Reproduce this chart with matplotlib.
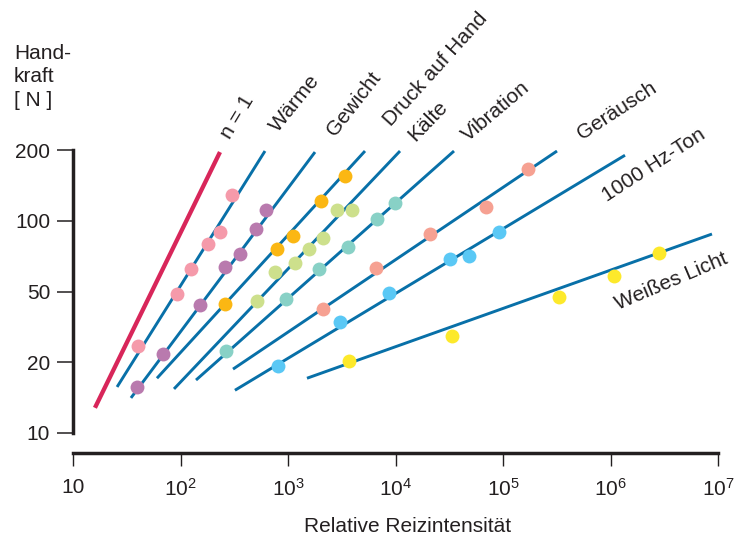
import numpy as np
import matplotlib
matplotlib.use("Agg")
import matplotlib.pyplot as plt
from matplotlib.ticker import NullLocator

plt.rcParams['font.family'] = ['Liberation Sans', 'DejaVu Sans']
plt.rcParams['mathtext.fontset'] = 'custom'
plt.rcParams['mathtext.rm'] = 'Liberation Sans'

# y-Achse: Teilstriche 10, 20, 50, 100, 200 in gleichen Abständen
y_ticks = [10, 20, 50, 100, 200]
y_ticklabels = ['10', '20', '50', '100', '200']
x_ticks = [10, 1e2, 1e3, 1e4, 1e5, 1e6, 1e7]
x_ticklabels = ['10', r'$\mathregular{10^2}$', r'$\mathregular{10^3}$', r'$\mathregular{10^4}$',
                r'$\mathregular{10^5}$', r'$\mathregular{10^6}$', r'$\mathregular{10^7}$']

# Gerade n = 1
n1_x = [16.0, 233]
n1_y = [12.8, 196]

# Geraden (Anfang, Ende) je Sinnesmodalität
namen = ['Wärme', 'Gewicht', 'Druck auf Hand', 'Kälte', 'Vibration',
         'Geräusch', '1000 Hz-Ton', 'Weißes Licht']
linie_x = [[25.7, 611], [34.6, 1783], [60.4, 5203], [87.0, 11014],
           [139.4, 35020], [308, 318000], [321, 1.364e6], [1502, 8.79e6]]
linie_y = [[15.7, 198], [14.1, 196], [17.1, 198], [15.4, 198],
           [16.8, 198], [18.7, 198], [15.2, 190], [17.1, 87.8]]

# Messpunkte
waerme_x = [301, 233, 180, 125, 92.8, 40.2]
waerme_y = [128.7, 89.6, 79.6, 62.3, 48.4, 24.6]
gewicht_x = [624, 504, 358, 259, 152, 68.7, 39.4]
gewicht_y = [111.1, 92.2, 72.2, 63.6, 42.0, 22.2, 15.7]
druck_x = [3390, 2028, 1113, 790, 259]
druck_y = [155, 121.4, 86.1, 75.8, 42.6]
kaelte_x = [2856, 3938, 2117, 1568, 1162, 757, 515]
kaelte_y = [111.1, 111.1, 84.5, 75.8, 66.1, 60.5, 44.3]
vibration_x = [9893, 6730, 3614, 1943, 958, 265]
vibration_y = [119.0, 101.7, 77.3, 62.3, 45.4, 23.0]
geraeusch_x = [1.708e5, 6.95e4, 2.094e4, 6586, 2117]
geraeusch_y = [166, 114.4, 87.8, 63.0, 39.9]
ton_x = [9.18e4, 4.83e4, 3.21e4, 8700, 3046, 807]
ton_y = [89.6, 70.8, 68.8, 49.0, 33.5, 19.3]
licht_x = [2.83e6, 1.078e6, 3.32e5, 3.35e4, 3694]
licht_y = [72.9, 58.2, 46.6, 28.1, 20.3]

punkte = [(waerme_x, waerme_y, '#f59aaa'), (gewicht_x, gewicht_y, '#b97aae'),
          (druck_x, druck_y, '#fbb713'), (kaelte_x, kaelte_y, '#cde08c'),
          (vibration_x, vibration_y, '#88d1c6'), (geraeusch_x, geraeusch_y, '#f6a192'),
          (ton_x, ton_y, '#5ac8f5'), (licht_x, licht_y, '#fde92b')]

idx = [-1, 0, 1, 2, 3, 4, 5]
lv = np.log10([1, 10, 20, 50, 100, 200, 2000])


def vor(v):
    v = np.clip(np.asarray(v, dtype=float), 1e-3, None)
    return np.interp(np.log10(v), lv, idx)


def zurueck(i):
    return 10 ** np.interp(i, idx, lv)


dunkel = '#231f20'
blau = '#0870a8'

fig = plt.figure(figsize=(7.36, 5.38), dpi=100)
ax = fig.add_axes([73 / 736, 1 - 433 / 538, 645 / 736, 283 / 538])
ax.set_xscale('log')
ax.set_yscale('function', functions=(vor, zurueck))
ax.set_xlim(10, 1e7)
ax.set_ylim(10, 200)

ax.plot(n1_x, n1_y, color='#d8265a', lw=3.1, solid_capstyle='butt', zorder=3)
for lx, ly in zip(linie_x, linie_y):
    ax.plot(lx, ly, color=blau, lw=2.1, solid_capstyle='butt', zorder=2)
for px, py, c in punkte:
    ax.scatter(px, py, s=100, color=c, linewidths=0, zorder=4)

ax.spines['top'].set_visible(False)
ax.spines['right'].set_visible(False)
ax.spines['left'].set_linewidth(2.5)
ax.spines['bottom'].set_linewidth(2.5)
ax.spines['left'].set_color(dunkel)
ax.spines['bottom'].set_color(dunkel)
ax.spines['bottom'].set_position(('outward', 14.4))

ax.set_xticks(x_ticks)
ax.set_xticklabels(x_ticklabels)
ax.set_yticks(y_ticks)
ax.set_yticklabels(y_ticklabels)
ax.xaxis.set_minor_locator(NullLocator())
ax.yaxis.set_minor_locator(NullLocator())
ax.tick_params(axis='y', length=11.5, width=1.1, pad=5, labelsize=15, colors=dunkel)
ax.tick_params(axis='x', length=9.5, width=1.0, pad=8.5, labelsize=15, colors=dunkel)

# Beschriftungen der Geraden
beschriftung = [('n = 1', 230, 140, 59), ('Wärme', 278, 133, 51), ('Gewicht', 335, 137, 52),
                ('Druck auf Hand', 391, 127, 48), ('Kälte', 415, 142, 46),
                ('Vibration', 468, 142, 40), ('Geräusch', 582, 140, 33),
                ('1000 Hz-Ton', 607, 202, 33), ('Weißes Licht', 618, 310, 23)]
for t, bx, by, rot in beschriftung:
    fig.text(bx / 736, 1 - by / 538, t, fontsize=15, color=dunkel, rotation=rot,
             rotation_mode='anchor', ha='left', va='baseline')

fig.text(14 / 736, 1 - 44 / 538, 'Hand-\nkraft\n[ N ]', fontsize=15, color=dunkel,
         ha='left', va='top', linespacing=1.3)
fig.text(408 / 736, 1 - 532 / 538, 'Relative Reizintensität', fontsize=15, color=dunkel,
         ha='center', va='baseline')

fig.savefig('out.png', dpi=100)
